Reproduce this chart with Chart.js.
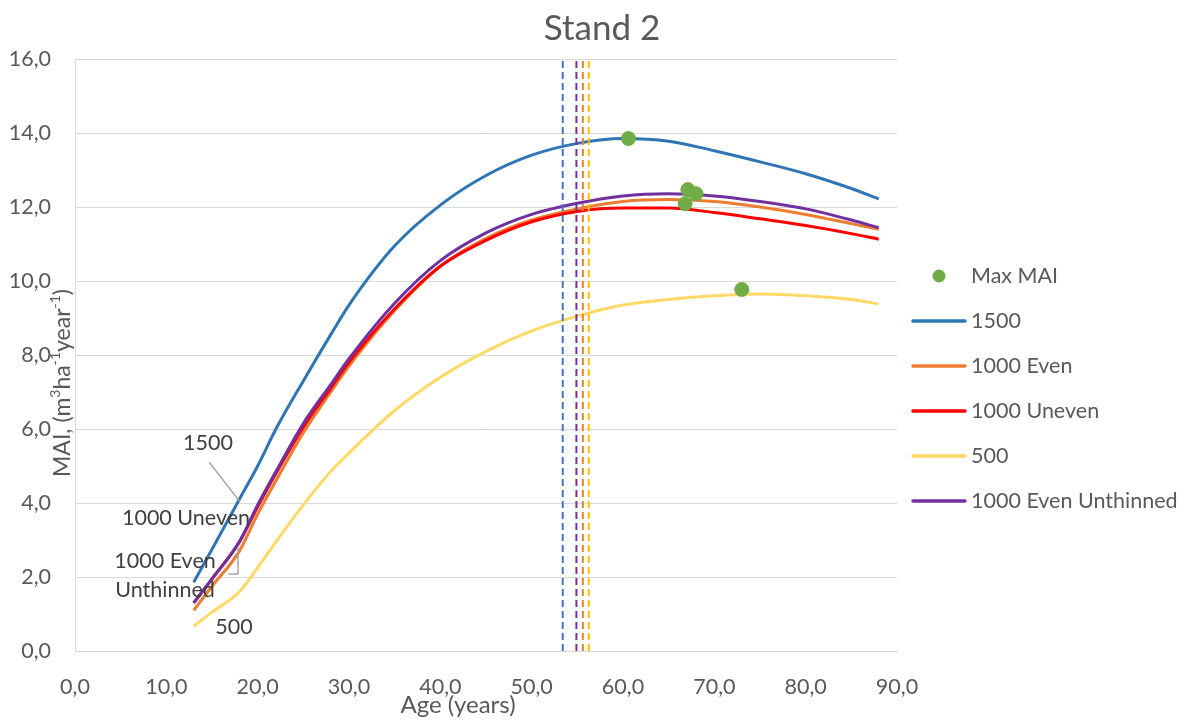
<!DOCTYPE html>
<html>
<head>
<meta charset="utf-8">
<script src="https://cdn.jsdelivr.net/npm/chart.js@4"></script>
<style>
html,body{margin:0;padding:0;background:#fff;}
#wrap{width:1188px;height:720px;}
</style>
</head>
<body>
<div id="wrap"><canvas id="c" width="1188" height="720"></canvas></div>
<script>
const ages = [13,15,18,20,22,25,28,30,35,40,45,50,55,60,65,70,75,80,85,88];
const mai1500 = [1.86,2.75,4.1,5.0,6.0,7.3,8.55,9.35,10.95,12.05,12.85,13.4,13.72,13.85,13.78,13.52,13.22,12.9,12.5,12.22];
const mai1000Even = [1.1,1.75,2.7,3.7,4.6,5.9,7.0,7.7,9.2,10.4,11.15,11.65,11.95,12.15,12.2,12.15,12.0,11.8,11.55,11.4];
const mai1000Uneven = [1.3,1.95,2.95,3.9,4.8,6.05,7.1,7.8,9.25,10.4,11.1,11.6,11.88,11.97,11.97,11.85,11.68,11.5,11.28,11.13];
const mai500 = [0.67,1.05,1.6,2.25,2.95,3.95,4.85,5.35,6.5,7.4,8.1,8.65,9.05,9.35,9.5,9.6,9.65,9.6,9.5,9.38];
const mai1000Unthinned = [1.3,1.95,2.95,3.95,4.85,6.15,7.2,7.9,9.4,10.55,11.3,11.8,12.1,12.3,12.36,12.3,12.15,11.95,11.65,11.44];
const maxAge = [60.6,67.1,68.0,66.8,73.0];
const maxMAI = [13.85,12.47,12.36,12.09,9.77];
const vlineAges = [53.4,54.9,55.6,56.25];
const vlineColors = ['#4472C4','#7030A0','#ED7D31','#FFC000'];
const yTicks = [0,2,4,6,8,10,12,14,16];
const xTicks = [0,10,20,30,40,50,60,70,80,90];

const FONT = "Lato, 'Open Sans', sans-serif";
const pts = arr => ages.map((a,i)=>({x:a,y:arr[i]}));
const comma = v => Number(v).toFixed(1).replace('.', ',');

const curve = (label, data, color, order) => ({
  type:'line', label, data:pts(data), borderColor:color, backgroundColor:color,
  borderWidth:3, pointRadius:0, cubicInterpolationMode:'monotone', fill:false, order
});

const datasets = [
  {type:'scatter', label:'Max MAI', data:maxAge.map((a,i)=>({x:a,y:maxMAI[i]})),
   backgroundColor:'#70AD47', borderColor:'#70AD47', pointRadius:7, pointHoverRadius:7, order:0},
  curve('1500', mai1500, '#2E75B6', 6),
  curve('1000 Even', mai1000Even, '#ED7D31', 5),
  curve('1000 Uneven', mai1000Uneven, '#FF0000', 4),
  curve('500', mai500, '#FFD966', 3),
  curve('1000 Even Unthinned', mai1000Unthinned, '#7030A0', 2),
];
vlineAges.forEach((a,i)=>{
  datasets.push({type:'line', label:'_v'+i, data:[{x:a,y:0},{x:a,y:16}], borderColor:vlineColors[i],
    borderWidth:2, borderDash:[7,4], pointRadius:0, fill:false, order:1});
});

const legendNames = ['Max MAI','1500','1000 Even','1000 Uneven','500','1000 Even Unthinned'];

function drawSuperText(ctx, parts, cx, cy){
  // parts: [text, isSuper]
  let total = 0;
  parts.forEach(p=>{ ctx.font = p[1] ? `14px ${FONT}` : `23px ${FONT}`; total += ctx.measureText(p[0]).width; });
  let x = cx - total/2;
  ctx.textAlign = 'left';
  parts.forEach(p=>{
    ctx.font = p[1] ? `14px ${FONT}` : `23px ${FONT}`;
    ctx.fillText(p[0], x, p[1] ? cy - 8 : cy);
    x += ctx.measureText(p[0]).width;
  });
}

const decor = {
  id:'decor',
  afterDraw(chart){
    const ctx = chart.ctx;
    const xs = chart.scales.x, ys = chart.scales.y;
    ctx.save();
    ctx.fillStyle = '#595959';
    ctx.font = `35px ${FONT}`;
    ctx.textAlign = 'center'; ctx.textBaseline = 'middle';
    ctx.fillText('Stand 2', 602, 29);
    ctx.font = `24px ${FONT}`;
    ctx.fillText('Age (years)', 458, 705);
    ctx.save();
    ctx.translate(63, 383);
    ctx.rotate(-Math.PI/2);
    drawSuperText(ctx, [['MAI, (m',0],['3',1],['ha',0],['-1',1],['year',0],['-1',1],[')',0]], 0, 0);
    ctx.restore();
    ctx.font = `21.5px ${FONT}`;
    ctx.textAlign = 'left';
    legendNames.forEach((name,i)=>{
      const ds = chart.data.datasets.find(d=>d.label===name);
      const y = 276 + i*45;
      if (ds.type==='scatter'){
        ctx.fillStyle = ds.backgroundColor;
        ctx.beginPath(); ctx.arc(939, y, 6.5, 0, Math.PI*2); ctx.fill();
      } else {
        ctx.strokeStyle = ds.borderColor; ctx.lineWidth = 3.5; ctx.lineCap='round';
        ctx.beginPath(); ctx.moveTo(913, y); ctx.lineTo(965, y); ctx.stroke();
      }
      ctx.fillStyle = '#595959';
      ctx.fillText(name, 971, y);
    });
    ctx.fillStyle = '#404040';
    ctx.font = `21.5px ${FONT}`;
    ctx.textAlign = 'center';
    ctx.fillText('1500', 208, 443);
    ctx.fillText('1000 Uneven', 186, 518);
    ctx.fillText('1000 Even', 165, 561);
    ctx.fillText('Unthinned', 165, 590);
    ctx.fillText('500', 234, 627);
    ctx.strokeStyle = '#A6A6A6'; ctx.lineWidth = 1.5; ctx.lineCap='butt';
    ctx.beginPath();
    ctx.moveTo(xs.getPixelForValue(14.7), ys.getPixelForValue(5.1));
    ctx.lineTo(xs.getPixelForValue(18.0), ys.getPixelForValue(4.05));
    ctx.stroke();
    ctx.beginPath();
    ctx.moveTo(xs.getPixelForValue(17.85), ys.getPixelForValue(2.8));
    ctx.lineTo(xs.getPixelForValue(17.85), ys.getPixelForValue(2.08));
    ctx.lineTo(xs.getPixelForValue(16.8), ys.getPixelForValue(2.08));
    ctx.stroke();
    ctx.restore();
  }
};

new Chart(document.getElementById('c'), {
  data:{datasets},
  options:{
    responsive:false, animation:false, devicePixelRatio:1,
    layout:{padding:{left:0, top:59, right:291, bottom:0}},
    plugins:{legend:{display:false}, tooltip:{enabled:false}, title:{display:false}},
    scales:{
      x:{type:'linear', min:0, max:90,
        afterBuildTicks(s){ s.ticks = xTicks.map(v=>({value:v})); },
        afterFit(s){ s.height = 69; },
        grid:{display:false, drawTicks:false},
        border:{display:true, color:'#D9D9D9', width:1},
        ticks:{color:'#595959', font:{family:FONT, size:21.5}, padding:23, maxRotation:0, callback:v=>comma(v)}
      },
      y:{type:'linear', min:0, max:16,
        afterBuildTicks(s){ s.ticks = yTicks.map(v=>({value:v})); },
        afterFit(s){ s.width = 75; },
        grid:{color:'#D9D9D9', lineWidth:1, drawTicks:false},
        border:{display:true, color:'#D9D9D9', width:1},
        ticks:{color:'#595959', font:{family:FONT, size:21.5}, padding:24, callback:v=>comma(v)}
      }
    }
  },
  plugins:[decor]
});
</script>
</body>
</html>
